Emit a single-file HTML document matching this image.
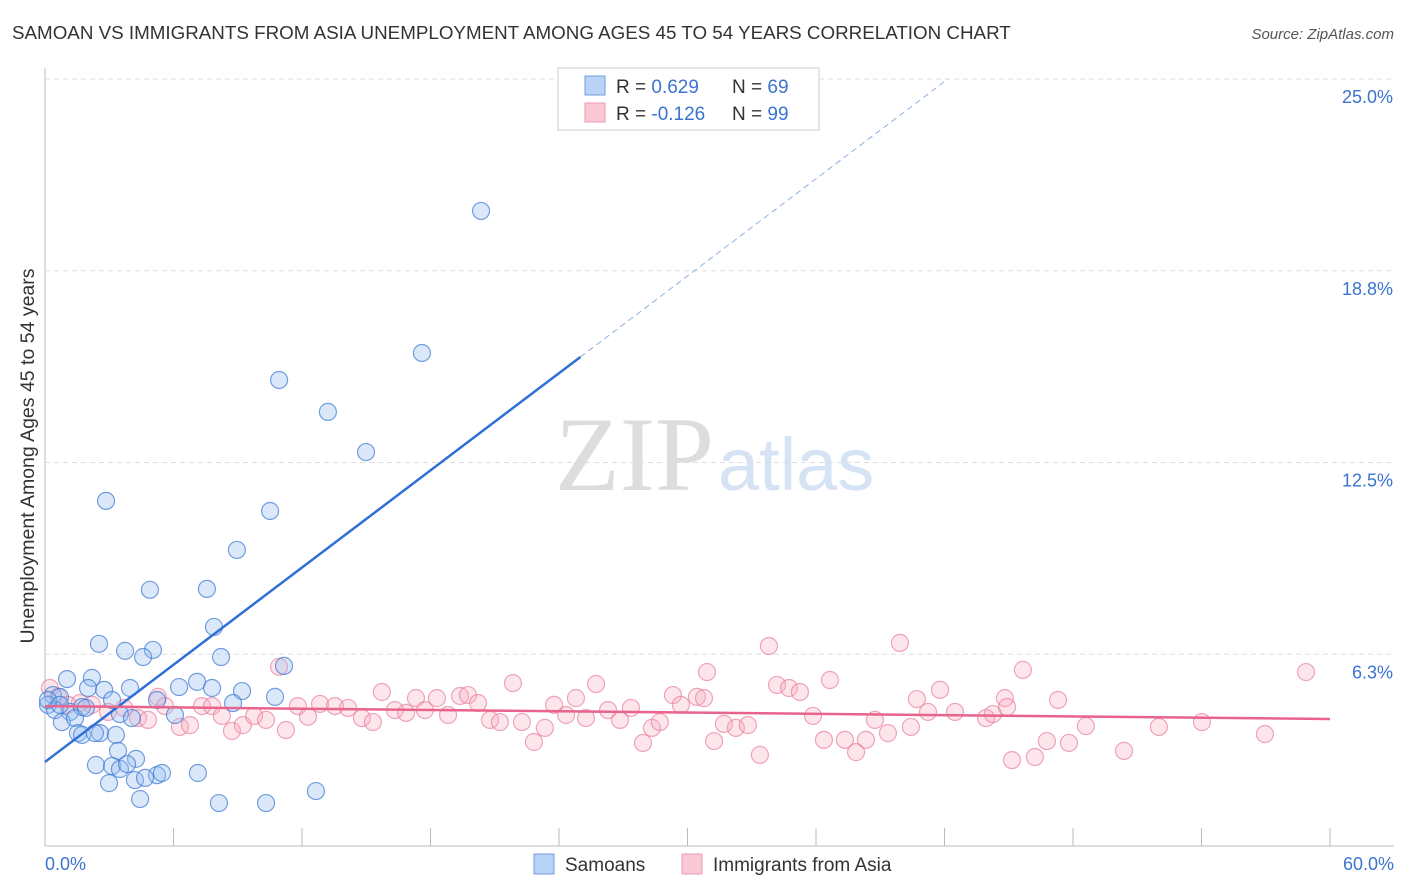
<!DOCTYPE html>
<html><head><meta charset="utf-8"><style>
body{margin:0;background:#fff;font-family:"Liberation Sans",sans-serif;}
svg{display:block}
</style></head><body>
<svg id="chart" width="1406" height="892">
<text x="12" y="39" font-size="18.8" fill="#333">SAMOAN VS IMMIGRANTS FROM ASIA UNEMPLOYMENT AMONG AGES 45 TO 54 YEARS CORRELATION CHART</text>
<text x="1394" y="39" font-size="15" fill="#555" font-style="italic" text-anchor="end">Source: ZipAtlas.com</text>
<text x="714" y="490" font-size="106" fill="#ddd" font-family="Liberation Serif,serif" text-anchor="end">ZIP</text>
<text x="718" y="490" font-size="74" fill="#d6e3f5">atlas</text>
<g id="grid"></g>
<g id="pts"></g>
<g id="lines"></g>
<text transform="translate(34,456) rotate(-90)" font-size="19.5" fill="#333" text-anchor="middle">Unemployment Among Ages 45 to 54 years</text>
<text x="45" y="870" font-size="18" fill="#3a74d0">0.0%</text>
<text x="1394" y="870" font-size="18" fill="#3a74d0" text-anchor="end">60.0%</text>
<g>
<rect x="558" y="68" width="261" height="62" fill="#fff" stroke="#ccc"/>
<rect x="585" y="76" width="20" height="19" fill="#b9d3f5" stroke="#6f9ee0"/>
<rect x="585" y="103" width="20" height="19" fill="#fbc9d6" stroke="#ee9ab0"/>
<text x="616" y="93" font-size="19" fill="#333">R = <tspan fill="#3a74d0">0.629</tspan><tspan x="732">N = </tspan><tspan fill="#3a74d0">69</tspan></text>
<text x="616" y="120" font-size="19" fill="#333">R = <tspan fill="#3a74d0">-0.126</tspan><tspan x="732">N = </tspan><tspan fill="#3a74d0">99</tspan></text>
</g>
<g>
<rect x="534" y="854" width="20" height="20" fill="#b9d3f5" stroke="#6f9ee0"/>
<text x="565" y="871" font-size="19" fill="#333">Samoans</text>
<rect x="682" y="854" width="20" height="20" fill="#fbc9d6" stroke="#ee9ab0"/>
<text x="713" y="871" font-size="19" fill="#333">Immigrants from Asia</text>
</g>
</svg>
<script>
const yTicks=[6.25,12.5,18.75,25];
const yTickLabels=["6.3%","12.5%","18.8%","25.0%"];
const xTicks=[0,6,12,18,24,30,36,42,48,54,60];
const blueX=[20.36,17.60,10.93,13.21,14.99,2.85,10.51,8.96,4.90,7.56,7.89,2.52,3.74,5.04,4.58,8.22,11.16,1.03,2.19,2.01,2.76,3.97,6.26,7.10,7.80,9.20,10.74,0.37,0.70,0.14,0.47,1.17,1.73,3.13,5.23,8.78,3.50,4.06,6.07,0.79,1.40,1.91,1.54,1.73,2.57,3.31,2.33,3.41,4.25,2.38,3.13,3.50,3.83,5.23,5.46,7.14,2.99,4.20,4.67,4.44,8.12,10.32,12.65,0.14,0.70];
const blueY=[20.70,16.07,15.19,14.15,12.84,11.25,10.92,9.65,8.35,8.38,7.14,6.59,6.36,6.39,6.16,6.16,5.87,5.44,5.48,5.15,5.09,5.15,5.18,5.35,5.15,5.05,4.86,4.92,4.86,4.60,4.43,4.37,4.53,4.76,4.76,4.66,4.30,4.17,4.27,4.04,4.17,4.50,3.68,3.62,3.68,3.62,3.68,3.10,2.84,2.64,2.61,2.51,2.67,2.31,2.38,2.38,2.05,2.15,2.22,1.53,1.40,1.40,1.79,4.76,4.60];
const pinkX=[0.23,0.61,1.07,1.63,2.19,2.94,3.69,4.34,4.81,5.28,5.60,6.30,6.77,7.33,7.80,8.26,8.73,9.24,9.76,10.32,10.93,11.25,11.81,12.28,12.84,13.54,14.15,14.80,15.31,15.73,16.34,16.86,17.32,17.74,18.30,18.82,19.38,19.75,20.22,20.78,21.24,21.85,22.27,22.83,23.34,23.77,24.33,24.79,25.26,25.73,26.29,26.85,27.36,27.92,28.34,28.71,29.32,29.69,30.44,30.91,31.24,31.70,32.26,32.82,33.38,33.80,34.18,34.74,35.25,35.86,36.37,36.65,37.35,37.87,38.33,38.75,39.36,39.92,40.43,40.71,41.23,41.79,42.49,43.94,44.26,44.82,45.15,45.66,46.22,46.78,47.30,47.81,48.60,50.38,52.01,54.02,56.96,58.88,44.92,30.77];
const pinkY=[5.15,4.86,4.60,4.66,4.60,4.37,4.50,4.17,4.11,4.86,4.56,3.88,3.94,4.56,4.56,4.24,3.75,3.94,4.24,4.11,5.84,3.78,4.56,4.21,4.63,4.56,4.50,4.17,4.04,5.02,4.43,4.34,4.82,4.43,4.82,4.27,4.89,4.92,4.66,4.11,4.04,5.31,4.04,3.39,3.85,4.60,4.27,4.82,4.17,5.28,4.43,4.11,4.50,3.36,3.85,4.04,4.92,4.60,4.86,5.67,3.42,3.98,3.85,3.94,2.97,6.52,5.25,5.15,5.02,4.24,3.46,5.41,3.46,3.06,3.46,4.11,3.68,6.62,3.88,4.79,4.37,5.09,4.37,4.17,4.30,4.82,2.80,5.74,2.90,3.42,4.76,3.36,3.91,3.10,3.88,4.04,3.65,5.67,4.53,4.82];
const blueFit=[2.74,0.528];
const blueSolidEnd=25;
const blueDashEnd=42.16;
const pinkFit=[4.56,-0.007];

const X0=45,X1=1330,Y0=846,Y25=79;
const sx=v=>X0+(X1-X0)*v/60;
const sy=v=>Y0-(Y0-Y25)*v/25;
const NS="http://www.w3.org/2000/svg";
function mk(tag,attrs,parent){const e=document.createElementNS(NS,tag);for(const k in attrs)e.setAttribute(k,attrs[k]);parent.appendChild(e);return e;}
const grid=document.getElementById('grid');
const svg=document.getElementById('chart');
let ax=mk('line',{x1:X0,y1:68,x2:X0,y2:Y0,stroke:'#bbb'},grid);


let bx=mk('line',{x1:X0,y1:Y0,x2:1394,y2:Y0,stroke:'#bbb'},grid);


yTicks.forEach((t,i)=>{
  const g=mk('line',{x1:X0,x2:1394,y1:sy(t),y2:sy(t),stroke:'#ddd','stroke-dasharray':'5,4'},grid);
  
  
  const tx=mk('text',{x:1393,y:sy(t)+24,'font-size':18,fill:'#3a74d0','text-anchor':'end'},svg);
  tx.textContent=yTickLabels[i];
  
  
});
xTicks.forEach(t=>{
  const l=mk('line',{x1:sx(t),x2:sx(t),y1:Y0,y2:Y0-18,stroke:'#bbb'},grid);
  
  
});
const pts=document.getElementById('pts');
pinkX.forEach((x,i)=>{
  const c=mk('circle',{cx:sx(x),cy:sy(pinkY[i]),r:8.5,fill:'rgba(247,170,192,0.3)',stroke:'rgba(232,120,150,0.65)','stroke-width':1.2},pts);
  
  
});
blueX.forEach((x,i)=>{
  const c=mk('circle',{cx:sx(x),cy:sy(blueY[i]),r:8.5,fill:'rgba(150,190,240,0.35)',stroke:'rgba(60,120,210,0.7)','stroke-width':1.2},pts);
  
  
});
const lines=document.getElementById('lines');
const bf=x=>blueFit[0]+blueFit[1]*x;
let l1=mk('line',{x1:sx(0),y1:sy(bf(0)),x2:sx(blueSolidEnd),y2:sy(bf(blueSolidEnd)),stroke:'#2f6fd6','stroke-width':2.5},lines);


let l2=mk('line',{x1:sx(blueSolidEnd),y1:sy(bf(blueSolidEnd)),x2:sx(blueDashEnd),y2:sy(bf(blueDashEnd)),stroke:'#8fb0e0','stroke-width':1,'stroke-dasharray':'6,4'},lines);


const pf=x=>pinkFit[0]+pinkFit[1]*x;
let l3=mk('line',{x1:sx(0),y1:sy(pf(0)),x2:sx(60),y2:sy(pf(60)),stroke:'#e8648c','stroke-width':2.5},lines);


</script>
</body></html>
